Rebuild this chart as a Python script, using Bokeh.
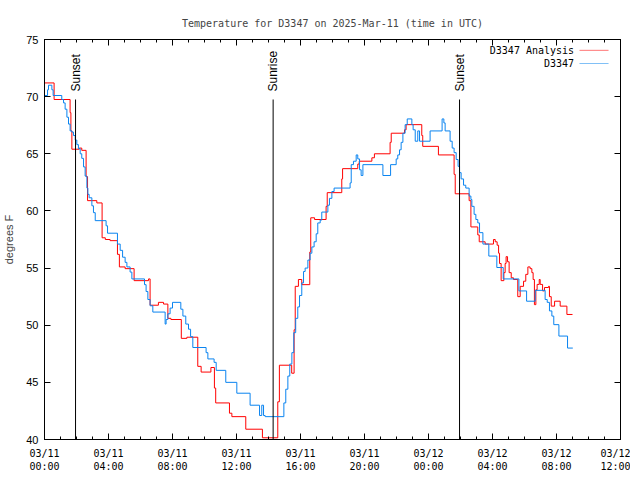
import math
from bokeh.plotting import figure
from bokeh.models import FixedTicker, LinearAxis, Range1d, Label, BoxAnnotation
from bokeh.embed import file_html
from bokeh.resources import INLINE

title_text = "Temperature for D3347 on 2025-Mar-11 (time in UTC)"
y_label = "degrees F"

# hours since 03/11 00:00 UTC
tick_hours = [0, 4, 8, 12, 16, 20, 24, 28, 32, 36]
tick_labels = ["03/11\n00:00", "03/11\n04:00", "03/11\n08:00", "03/11\n12:00",
               "03/11\n16:00", "03/11\n20:00", "03/12\n00:00", "03/12\n04:00",
               "03/12\n08:00", "03/12\n12:00"]
y_ticks = [40, 45, 50, 55, 60, 65, 70, 75]

analysis_name = "D3347 Analysis"
analysis_hours = [0.00, 0.60, 1.60, 1.65, 1.71, 2.17, 2.33, 2.60, 2.69, 3.27, 3.60, 3.80,
                  4.10, 4.56, 4.68, 5.04, 5.60, 6.50, 6.60, 7.12, 7.44, 7.71, 7.90, 8.55,
                  8.90, 9.58, 9.79, 10.40, 10.62, 10.70, 11.56, 11.71, 12.58, 13.62, 14.58,
                  14.68, 15.45, 15.60, 15.67, 15.87, 16.08, 16.58, 16.64, 16.88, 17.60, 17.67,
                  18.58, 18.63, 19.58, 19.67, 20.46, 20.62, 21.60, 21.67, 22.50, 22.60, 23.58,
                  23.64, 24.62, 25.60, 25.67, 26.54, 26.65, 27.08, 27.17, 27.54, 28.06, 28.17,
                  28.29, 28.38, 28.44, 28.54, 28.71, 28.79, 28.85, 28.94, 29.04, 29.17, 29.31,
                  29.58, 29.73, 29.94, 30.08, 30.21, 30.35, 30.46, 30.54, 30.62, 30.71, 30.79,
                  30.92, 30.98, 31.13, 31.25, 31.50, 31.56, 31.67, 31.88, 32.23, 32.65, 33.00]
analysis_temps = [71.2, 69.75, 68.6, 67.0, 65.4, 65.5, 65.3, 63.0, 60.9, 60.7, 57.65, 57.5,
                  57.4, 56.2, 55.1, 54.95, 53.9, 54.05, 51.75, 52.0, 51.85, 50.6, 50.5, 48.85,
                  48.95, 46.4, 45.9, 46.3, 44.5, 43.2, 42.3, 42.0, 40.9, 40.15, 43.3,
                  46.5, 45.8, 49.6, 53.4, 54.0, 53.55, 56.4, 59.4, 59.25, 60.4, 61.6,
                  62.8, 63.7, 64.1, 64.35, 64.65, 65.0, 66.0, 66.8, 67.1, 67.55, 66.6,
                  65.65, 64.9, 63.2, 61.5, 60.9, 58.6, 57.9, 57.3, 57.1, 57.5, 57.3,
                  57.0, 56.3, 55.4, 53.9, 54.6, 55.4, 56.0, 55.55, 54.6, 54.15, 54.0,
                  52.5, 53.4, 53.85, 54.45, 55.1, 54.95, 54.6, 54.0, 51.8, 53.1, 53.57,
                  54.0, 53.57, 53.0, 53.3, 53.4, 52.5, 51.67, 52.1, 51.67, 50.94, 50.94]

obs_name = "D3347"
obs_hours = [0.00, 0.19, 0.25, 0.46, 0.54, 1.08, 1.19, 1.29, 1.40, 1.50, 1.60, 1.71, 1.81,
             1.92, 2.02, 2.12, 2.23, 2.33, 2.44, 2.54, 2.65, 2.71, 2.79, 2.96, 3.06, 3.17,
             3.85, 3.94, 4.56, 4.73, 4.88, 5.04, 5.15, 5.35, 5.46, 6.25, 6.35, 6.46, 6.60,
             6.77, 7.54, 7.60, 7.71, 7.85, 8.00, 8.52, 8.65, 8.83, 9.00, 9.13, 9.27, 10.10,
             10.21, 10.60, 10.73, 11.33, 12.02, 12.85, 13.44, 13.58, 13.69, 13.79, 14.96,
             15.08, 15.21, 15.33, 15.46, 15.58, 15.70, 15.83, 15.94, 16.08, 16.19, 16.29,
             16.46, 16.60, 16.71, 16.85, 16.98, 17.08, 17.23, 17.33, 17.71, 17.81, 17.96,
             18.10, 19.10, 19.17, 19.31, 19.48, 19.58, 19.69, 19.79, 19.90, 21.15, 21.63,
             21.98, 22.08, 22.19, 22.29, 22.40, 22.54, 22.67, 22.96, 23.04, 23.17, 23.33,
             23.44, 24.10, 24.85, 24.96, 25.04, 25.35, 25.48, 25.60, 25.73, 25.85, 25.94,
             26.04, 26.19, 26.33, 26.54, 26.65, 26.71, 26.85, 26.96, 27.08, 27.19, 27.40,
             27.77, 28.27, 28.67, 29.65, 30.13, 30.67, 31.29, 31.42, 31.56, 31.71, 31.83,
             32.15, 32.69, 33.02]
obs_temps = [70.1, 70.6, 71.0, 70.6, 70.1, 69.75, 69.45, 68.9, 68.2, 67.6, 67.0, 66.9, 66.6,
             66.2, 65.8, 65.45, 65.0, 64.6, 63.85, 63.05, 62.0, 61.45, 61.15, 60.45, 59.85, 59.15,
             58.7, 58.05, 57.1, 56.55, 55.95, 55.5, 55.1, 54.65, 54.05, 53.55, 52.95, 52.25, 51.7,
             51.15, 50.1, 50.5, 51.0, 51.5, 52.0, 51.4, 50.8, 50.1, 49.65, 49.0, 48.05, 47.6,
             47.05, 46.75, 46.05, 45.0, 44.05, 43.0, 42.1, 43.0, 42.1, 42.0, 43.2,
             44.4, 45.55, 46.6, 47.6, 49.35, 50.6, 51.6, 52.6, 53.7, 54.7, 55.0,
             55.7, 56.3, 56.85, 57.3, 58.0, 58.95, 59.2, 59.9, 60.5, 61.1, 61.7,
             62.0, 62.45, 64.05, 64.35, 64.9, 64.55, 63.6, 63.1, 64.05, 63.1, 64.05,
             64.55, 64.9, 65.35, 66.0, 66.8, 67.55, 68.05, 67.55, 67.1, 66.1, 67.0,
             66.1, 67.0, 68.05, 67.7, 67.0, 66.1, 65.5, 65.1, 64.5, 63.9, 63.35,
             62.8, 62.25, 62.0, 61.3, 61.0, 60.4, 59.7, 59.25, 58.95, 58.1, 57.1,
             56.05, 55.05, 54.05, 53.0, 52.1, 53.05, 52.25, 52.0, 51.25, 50.8, 50.05,
             49.05, 48.0, 48.0]

event_hours = [1.94, 14.29, 25.94]
event_names = ["Sunset", "Sunrise", "Sunset"]

RED = "#ff0000"
BLUE = "#0a84f0"
MONO = "DejaVu Sans Mono"
SANS = "Liberation Sans"

x_min, x_max = 0, 36
y_min, y_max = 40, 75

p = figure(frame_width=576, frame_height=400, output_backend="svg", toolbar_location=None,
           x_range=Range1d(x_min, x_max), y_range=Range1d(y_min, y_max),
           min_border_left=38, min_border_right=10, min_border_top=39, min_border_bottom=0)
p.xgrid.visible = False
p.ygrid.visible = False
p.outline_line_color = "black"
p.outline_line_width = 1
p.background_fill_color = "white"
p.border_fill_color = "white"

p.title.text = title_text
p.title.align = "center"
p.title.text_font = MONO
p.title.text_font_size = "10px"
p.title.text_font_style = "normal"
p.title.standoff = 21

xt = FixedTicker(ticks=tick_hours, minor_ticks=list(range(x_min, x_max + 1)))
yt = FixedTicker(ticks=y_ticks, minor_ticks=[])

xa = p.xaxis[0]
xa.ticker = xt
xa.major_label_overrides = dict(zip(tick_hours, tick_labels))
xa.major_label_text_font = MONO
xa.major_label_text_font_size = "10px"
xa.major_label_standoff = 8
ya = p.yaxis[0]
ya.ticker = yt
ya.major_label_text_font = SANS
ya.major_label_text_font_size = "11px"
ya.major_label_standoff = 6
ya.axis_label = y_label
ya.axis_label_text_font = SANS
ya.axis_label_text_font_size = "11px"
ya.axis_label_text_font_style = "normal"
ya.axis_label_standoff = 8

for ax in (xa, ya):
    ax.major_tick_in = 6
    ax.major_tick_out = 0
    ax.minor_tick_in = 3
    ax.minor_tick_out = 0
    ax.axis_line_color = "black"
    ax.major_tick_line_color = "black"
    ax.minor_tick_line_color = "black"
    ax.major_label_text_color = "black"

# mirrored ticks on the top and right borders (no labels)
top_ax = LinearAxis(ticker=xt, major_label_text_font_size="0px", major_label_text_color=None,
                    major_label_standoff=0, major_tick_in=6, major_tick_out=0,
                    minor_tick_in=3, minor_tick_out=0, axis_line_color="black")
right_ax = LinearAxis(ticker=yt, major_label_text_font_size="0px", major_label_text_color=None,
                      major_label_standoff=0, major_tick_in=6, major_tick_out=0,
                      minor_tick_in=3, minor_tick_out=0, axis_line_color="black")
p.add_layout(top_ax, "above")
p.add_layout(right_ax, "right")

p.step(analysis_hours, analysis_temps, mode="after", line_color=RED, line_width=1)
p.step(obs_hours, obs_temps, mode="after", line_color=BLUE, line_width=1)

line_top = y_min + 0.85 * (y_max - y_min)
label_y = y_min + 0.87 * (y_max - y_min)
p.segment(x0=event_hours, y0=[y_min] * len(event_hours), x1=event_hours,
          y1=[line_top] * len(event_hours), line_color="black", line_width=1)
for h, name in zip(event_hours, event_names):
    p.add_layout(Label(x=h, y=label_y, text=name, angle=math.pi / 2,
                       text_align="left", text_baseline="middle",
                       text_font=SANS, text_font_size="12px", text_color="black"))

# gnuplot-style legend (text, then sample line on its right)
leg_text_x = x_max - 2.9
leg_line_x0 = x_max - 2.56
leg_line_x1 = x_max - 0.75
for i, (name, col) in enumerate([(analysis_name, RED), (obs_name, BLUE)]):
    yy = y_max - 0.95 - i * 1.15
    p.add_layout(Label(x=leg_text_x, y=yy, text=name, text_align="right",
                       text_baseline="middle", text_font=MONO, text_font_size="10px",
                       text_color="black"))
    p.add_layout(BoxAnnotation(left=leg_line_x0, right=leg_line_x1, bottom=yy, top=yy,
                               fill_alpha=0, line_color=col, line_width=1))

open("out.html", "w").write(file_html(p, INLINE))
